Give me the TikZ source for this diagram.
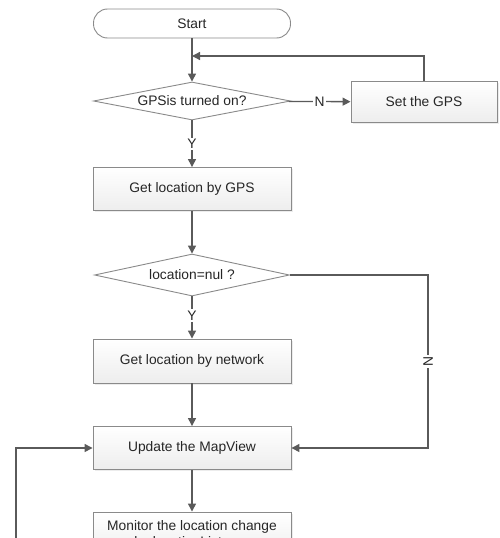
\documentclass[tikz,border=0pt]{standalone}
\usepackage{fontspec}
\setmainfont{Liberation Sans}
\usetikzlibrary{shapes.geometric, arrows.meta, shadows}
\definecolor{linegray}{HTML}{5A5A5A}
\definecolor{edgegray}{HTML}{8A8A8A}
\begin{document}
\begin{tikzpicture}[x=1pt, y=1pt,
    >={Triangle[length=8pt, width=8pt]},
    flow/.style={->, line width=1.3pt, draw=linegray},
    every node/.style={font=\fontsize{13.8}{15.5}\selectfont, text=black!85},
    process/.style={draw=edgegray, line width=0.9pt, top color=white, bottom color=gray!14,
        minimum width=198pt, minimum height=43pt, align=center,
        drop shadow={opacity=0.15, shadow xshift=1.5pt, shadow yshift=-1.5pt}},
    decision/.style={diamond, aspect=5.2, draw=edgegray, line width=0.9pt, fill=white, inner sep=0pt,
        minimum width=197pt, minimum height=38pt},
    terminal/.style={draw=edgegray, line width=0.9pt, rounded corners=14pt, fill=white,
        minimum width=197pt, minimum height=29pt},
    yesno/.style={fill=white, inner sep=1.5pt}]
    \clip (0, 0) rectangle (499, -538);

    \node[terminal] (start) at (192, -23.5) {Start};
    \node[decision] (gpson) at (192, -101) {GPSis turned on?};
    \node[process, minimum width=146pt, minimum height=41pt] (setgps) at (424, -102) {Set the GPS};
    \node[process] (bygps) at (192, -189) {Get location by GPS};
    \node[decision, minimum width=195pt, minimum height=42pt] (isnull) at (192, -275) {location=nul ?};
    \node[process, minimum height=44pt] (bynet) at (192, -361) {Get location by network};
    \node[process] (update) at (192, -448) {Update the MapView};
    \node[process, minimum height=46pt] (monitor) at (192, -535) {Monitor the location change\\by locationListener};

    \coordinate (back) at (192, -56);
    \coordinate (nullturn) at (428, -275);
    \coordinate (loopin) at (16, -560);

    \draw[flow] (start) -- (gpson);
    \draw[flow] (gpson) -- node[yesno, pos=0.5] {N} (setgps);
    \draw[flow] (setgps.north) |- (back);
    \draw[flow] (gpson) -- node[yesno, pos=0.5] {Y} (bygps);
    \draw[flow] (bygps) -- (isnull);
    \draw[flow] (isnull) -- node[yesno, pos=0.45] {Y} (bynet);
    \draw[flow] (isnull.east) -- (nullturn) |- node[yesno, rotate=90, pos=0.25] {N} (update.east);
    \draw[flow] (bynet) -- (update);
    \draw[flow] (update) -- (monitor);
    \draw[flow] (loopin) |- (update.west);
\end{tikzpicture}
\end{document}
